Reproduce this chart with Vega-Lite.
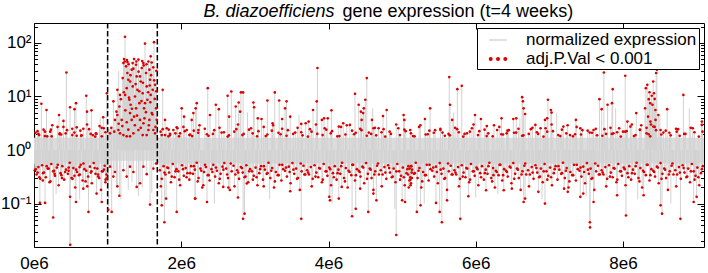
{
"$schema":"https://vega.github.io/schema/vega-lite/v6.json",
"width":670,"height":224,"autosize":"none",
"padding":{"left":34,"top":23,"right":4,"bottom":26},
"background":"white",
"config":{"view":{"stroke":"black","strokeWidth":1},"axis":{"domain":false,"grid":false,"tickColor":"black","tickWidth":1,"labelFont":"Liberation Sans","labelFontSize":17,"labelColor":"black"}},
"datasets":{
"band":[{"x":0,"lo":0.56,"hi":1.7},{"x":0.99,"lo":0.56,"hi":1.7},{"x":1.0,"lo":0.63,"hi":2.5},{"x":1.67,"lo":0.63,"hi":2.5},{"x":1.68,"lo":0.56,"hi":1.7},{"x":9.1,"lo":0.56,"hi":1.7}],
"vl":[{"x":1.0},{"x":1.675}],
"g":[
{"x":0.01,"y":0.42},{"x":0.035,"y":0.35},{"x":0.06,"y":0.48},{"x":0.085,"y":0.29},{"x":0.02,"y":2.1},{"x":0.07,"y":1.9},
{"x":0.11,"y":0.52},{"x":0.135,"y":0.38},{"x":0.16,"y":0.31},{"x":0.185,"y":0.45},{"x":0.13,"y":2.4},{"x":0.18,"y":1.8},
{"x":0.21,"y":0.25},{"x":0.235,"y":0.55},{"x":0.26,"y":0.4},{"x":0.285,"y":0.33},{"x":0.22,"y":2.2},
{"x":0.31,"y":0.47},{"x":0.335,"y":0.22},{"x":0.36,"y":0.37},{"x":0.385,"y":0.5},{"x":0.32,"y":2.7},{"x":0.37,"y":1.95},
{"x":0.41,"y":0.28},{"x":0.435,"y":0.43},{"x":0.46,"y":0.36},{"x":0.485,"y":0.58},{"x":0.43,"y":2.05},
{"x":0.51,"y":0.3},{"x":0.535,"y":0.46},{"x":0.56,"y":0.2},{"x":0.585,"y":0.39},{"x":0.52,"y":2.5},{"x":0.58,"y":1.85},
{"x":0.61,"y":0.34},{"x":0.635,"y":0.53},{"x":0.66,"y":0.27},{"x":0.685,"y":0.44},{"x":0.63,"y":2.3},
{"x":0.71,"y":0.41},{"x":0.735,"y":0.32},{"x":0.76,"y":0.49},{"x":0.785,"y":0.24},{"x":0.72,"y":3.0},{"x":0.77,"y":2.0},
{"x":0.81,"y":0.57},{"x":0.835,"y":0.36},{"x":0.86,"y":0.45},{"x":0.885,"y":0.3},{"x":0.83,"y":1.78},
{"x":0.91,"y":0.18},{"x":0.935,"y":0.4},{"x":0.96,"y":0.51},{"x":0.985,"y":0.35},{"x":0.92,"y":2.6},{"x":0.97,"y":2.15},
{"x":0.05,"y":0.38},{"x":0.12,"y":0.27},{"x":0.2,"y":0.45},{"x":0.28,"y":0.36},{"x":0.38,"y":0.3},{"x":0.47,"y":0.41},{"x":0.55,"y":0.33},{"x":0.62,"y":0.48},{"x":0.7,"y":0.26},{"x":0.78,"y":0.4},{"x":0.87,"y":0.35},{"x":0.95,"y":0.43},{"x":0.99,"y":0.3},{"x":0.97,"y":0.25},
{"x":0.023,"y":0.44},{"x":0.072,"y":0.31},{"x":0.048,"y":2.25},{"x":0.123,"y":0.37},{"x":0.172,"y":0.5},{"x":0.148,"y":1.82},{"x":0.223,"y":0.26},{"x":0.272,"y":0.41},{"x":0.248,"y":2.9},{"x":0.323,"y":0.53},{"x":0.372,"y":0.34},{"x":0.348,"y":1.97},{"x":0.423,"y":0.39},{"x":0.472,"y":0.47},{"x":0.448,"y":2.35},{"x":0.523,"y":0.29},{"x":0.572,"y":0.43},{"x":0.548,"y":2.12},{"x":0.623,"y":0.35},{"x":0.672,"y":0.56},{"x":0.648,"y":1.88},{"x":0.723,"y":0.21},{"x":0.772,"y":0.38},{"x":0.748,"y":2.45},{"x":0.823,"y":0.46},{"x":0.872,"y":0.32},{"x":0.848,"y":2.0},{"x":0.923,"y":0.4},{"x":0.972,"y":0.28},{"x":0.948,"y":2.55},
{"x":0.10,"y":7.3},{"x":0.17,"y":5.6},{"x":0.44,"y":28},{"x":0.34,"y":4.5},{"x":0.40,"y":3.5},{"x":0.49,"y":6.3},{"x":0.55,"y":5.8},{"x":0.57,"y":7.5},{"x":0.71,"y":10.3},{"x":0.72,"y":5.2},{"x":0.78,"y":5.5},{"x":0.67,"y":2.5},{"x":0.94,"y":4.1},{"x":0.89,"y":2.8},{"x":0.99,"y":11.5},
{"x":0.06,"y":2.0},{"x":0.15,"y":2.2},{"x":0.23,"y":2.4},{"x":0.24,"y":1.8},{"x":0.35,"y":2.05},{"x":0.40,"y":2.7},{"x":0.52,"y":1.9},{"x":0.58,"y":2.65},{"x":0.64,"y":1.85},{"x":0.8,"y":1.9},{"x":0.84,"y":2.05},{"x":0.92,"y":1.8},
{"x":0.08,"y":0.103},{"x":0.15,"y":0.103},{"x":0.26,"y":0.055},{"x":0.49,"y":0.134},{"x":0.57,"y":0.107},{"x":0.74,"y":0.07},{"x":0.92,"y":0.107},{"x":1.01,"y":0.077},{"x":0.85,"y":0.154},{"x":0.67,"y":0.19},{"x":0.492,"y":0.017},
{"x":1.033,"y":2.05},{"x":1.078,"y":8.1},{"x":1.1,"y":3.65},{"x":1.132,"y":4.5},{"x":1.146,"y":2.37},{"x":1.159,"y":6.5},{"x":1.168,"y":2.05},{"x":1.191,"y":3.65},{"x":1.205,"y":22},{"x":1.214,"y":42},{"x":1.223,"y":50},{"x":1.236,"y":130},{"x":1.25,"y":36.5},{"x":1.259,"y":14.3},{"x":1.268,"y":27.4},{"x":1.281,"y":20.5},{"x":1.295,"y":8.7},{"x":1.304,"y":4.9},{"x":1.306,"y":19},{"x":1.313,"y":7},{"x":1.327,"y":3.65},{"x":1.341,"y":15.4},{"x":1.35,"y":2.05},{"x":1.359,"y":50},{"x":1.372,"y":10},{"x":1.386,"y":6},{"x":1.395,"y":23.7},{"x":1.404,"y":13.3},{"x":1.418,"y":48.7},{"x":1.431,"y":7.5},{"x":1.44,"y":3.65},{"x":1.449,"y":19},{"x":1.463,"y":34},{"x":1.476,"y":11.5},{"x":1.486,"y":42},{"x":1.495,"y":6},{"x":1.508,"y":97},{"x":1.522,"y":27.4},{"x":1.531,"y":15.4},{"x":1.54,"y":8.7},{"x":1.554,"y":45},{"x":1.567,"y":3.65},{"x":1.576,"y":20.5},{"x":1.585,"y":10.7},{"x":1.599,"y":43},{"x":1.612,"y":13.3},{"x":1.621,"y":2.37},{"x":1.63,"y":103},{"x":1.644,"y":16.5},{"x":1.658,"y":6},{"x":1.667,"y":3.65},
{"x":1.132,"y":13.3},{"x":1.168,"y":10.7},{"x":1.238,"y":10.7},{"x":1.281,"y":2.4},{"x":1.359,"y":4.2},{"x":1.418,"y":2.37},{"x":1.486,"y":3.16},{"x":1.554,"y":2.37},{"x":1.599,"y":4.9},{"x":1.644,"y":2.05},{"x":1.327,"y":31.6},{"x":1.386,"y":39},{"x":1.44,"y":23.7},{"x":1.508,"y":7.5},{"x":1.567,"y":31.6},{"x":1.585,"y":56},{"x":1.531,"y":1.9},{"x":1.476,"y":1.9},{"x":1.214,"y":1.9},{"x":1.259,"y":1.8},{"x":1.304,"y":1.8},
{"x":1.05,"y":2.6},{"x":1.09,"y":2.2},{"x":1.12,"y":5.2},{"x":1.15,"y":3.1},{"x":1.18,"y":8.9},{"x":1.2,"y":2.8},{"x":1.22,"y":12},{"x":1.24,"y":5.5},{"x":1.26,"y":3.3},{"x":1.27,"y":44},{"x":1.29,"y":9.5},{"x":1.31,"y":25},{"x":1.33,"y":5.9},{"x":1.35,"y":33},{"x":1.37,"y":2.9},{"x":1.38,"y":17},{"x":1.4,"y":4.4},{"x":1.42,"y":29},{"x":1.43,"y":12.5},{"x":1.45,"y":2.6},{"x":1.46,"y":8.2},{"x":1.48,"y":18},{"x":1.49,"y":38},{"x":1.5,"y":3.9},{"x":1.52,"y":5.1},{"x":1.53,"y":40},{"x":1.55,"y":12},{"x":1.56,"y":2.9},{"x":1.58,"y":7.8},{"x":1.59,"y":25},{"x":1.61,"y":4.6},{"x":1.62,"y":35},{"x":1.64,"y":9},{"x":1.65,"y":2.7},{"x":1.66,"y":12.5},{"x":1.662,"y":30},{"x":1.632,"y":20},{"x":1.572,"y":16},{"x":1.47,"y":46},{"x":1.39,"y":45},{"x":1.34,"y":42},{"x":1.285,"y":40},{"x":1.232,"y":45},{"x":1.262,"y":48},
{"x":1.033,"y":0.49},{"x":1.078,"y":0.32},{"x":1.132,"y":0.21},{"x":1.159,"y":0.14},{"x":1.214,"y":0.42},{"x":1.259,"y":0.32},{"x":1.304,"y":0.49},{"x":1.35,"y":0.39},{"x":1.395,"y":0.205},{"x":1.44,"y":0.24},{"x":1.486,"y":0.49},{"x":1.531,"y":0.355},{"x":1.576,"y":0.096},{"x":1.621,"y":0.45},{"x":1.658,"y":0.56},{"x":1.1,"y":0.39},{"x":1.055,"y":0.07},
{"x":1.748,"y":13.3},{"x":1.78,"y":3.65},{"x":1.803,"y":2.55},{"x":1.848,"y":1.9},{"x":1.893,"y":2.37},{"x":1.938,"y":2.66},{"x":1.984,"y":2.05},{"x":2.006,"y":6},{"x":2.038,"y":4.2},{"x":2.074,"y":2.37},{"x":2.11,"y":1.9},{"x":2.142,"y":3.65},{"x":2.165,"y":4.9},{"x":2.196,"y":6},{"x":2.21,"y":7.5},{"x":2.233,"y":2.37},{"x":1.735,"y":1.9},{"x":1.825,"y":1.8},
{"x":1.735,"y":0.093},{"x":1.771,"y":0.045},{"x":1.794,"y":0.124},{"x":1.938,"y":0.07},{"x":2.188,"y":0.124},
{"x":1.71,"y":0.42},{"x":1.735,"y":0.29},{"x":1.76,"y":0.5},{"x":1.785,"y":0.35},{"x":1.72,"y":2.2},{"x":1.78,"y":1.9},
{"x":1.81,"y":0.47},{"x":1.835,"y":0.38},{"x":1.86,"y":0.25},{"x":1.885,"y":0.55},{"x":1.83,"y":2.4},
{"x":1.91,"y":0.31},{"x":1.935,"y":0.44},{"x":1.96,"y":0.4},{"x":1.985,"y":0.22},{"x":1.92,"y":2.05},{"x":1.97,"y":1.8},
{"x":1.723,"y":0.21},{"x":1.772,"y":0.38},{"x":1.748,"y":2.45},{"x":1.823,"y":0.46},{"x":1.872,"y":0.32},{"x":1.848,"y":2.0},{"x":1.923,"y":0.4},{"x":1.972,"y":0.28},{"x":1.948,"y":2.55},
{"x":2.01,"y":0.52},{"x":2.035,"y":0.33},{"x":2.06,"y":0.46},{"x":2.085,"y":0.37},{"x":2.03,"y":2.7},
{"x":2.11,"y":0.28},{"x":2.135,"y":0.5},{"x":2.16,"y":0.36},{"x":2.185,"y":0.43},{"x":2.12,"y":1.95},{"x":2.17,"y":2.3},
{"x":2.21,"y":0.58},{"x":2.235,"y":0.3},{"x":2.26,"y":0.45},{"x":2.285,"y":0.2},{"x":2.23,"y":2.1},
{"x":2.31,"y":0.39},{"x":2.335,"y":0.48},{"x":2.36,"y":0.34},{"x":2.385,"y":0.27},{"x":2.32,"y":2.5},{"x":2.37,"y":1.85},
{"x":2.41,"y":0.44},{"x":2.435,"y":0.53},{"x":2.46,"y":0.32},{"x":2.485,"y":0.41},{"x":2.43,"y":2.0},
{"x":2.51,"y":0.24},{"x":2.535,"y":0.36},{"x":2.56,"y":0.49},{"x":2.585,"y":0.57},{"x":2.52,"y":2.6},{"x":2.58,"y":2.15},
{"x":2.61,"y":0.45},{"x":2.635,"y":0.3},{"x":2.66,"y":0.18},{"x":2.685,"y":0.4},{"x":2.63,"y":1.78},
{"x":2.71,"y":0.51},{"x":2.735,"y":0.35},{"x":2.76,"y":0.42},{"x":2.785,"y":0.29},{"x":2.72,"y":2.2},{"x":2.77,"y":3.0},
{"x":2.81,"y":0.48},{"x":2.835,"y":0.38},{"x":2.86,"y":0.31},{"x":2.885,"y":0.52},{"x":2.83,"y":1.9},
{"x":2.91,"y":0.25},{"x":2.935,"y":0.44},{"x":2.96,"y":0.4},{"x":2.985,"y":0.33},{"x":2.92,"y":2.4},{"x":2.97,"y":2.05},
{"x":2.023,"y":0.44},{"x":2.072,"y":0.31},{"x":2.048,"y":2.25},{"x":2.123,"y":0.37},{"x":2.172,"y":0.5},{"x":2.148,"y":1.82},{"x":2.223,"y":0.26},{"x":2.272,"y":0.41},{"x":2.248,"y":2.9},{"x":2.323,"y":0.53},{"x":2.372,"y":0.34},{"x":2.348,"y":1.97},{"x":2.423,"y":0.39},{"x":2.472,"y":0.47},{"x":2.448,"y":2.35},{"x":2.523,"y":0.29},{"x":2.572,"y":0.43},{"x":2.548,"y":2.12},{"x":2.623,"y":0.35},{"x":2.672,"y":0.56},{"x":2.648,"y":1.88},{"x":2.723,"y":0.21},{"x":2.772,"y":0.38},{"x":2.748,"y":2.45},{"x":2.823,"y":0.46},{"x":2.872,"y":0.32},{"x":2.848,"y":2.0},{"x":2.923,"y":0.4},{"x":2.972,"y":0.28},{"x":2.948,"y":2.55},
{"x":3.01,"y":0.47},{"x":3.035,"y":0.22},{"x":3.06,"y":0.37},{"x":3.085,"y":0.5},{"x":3.03,"y":1.8},
{"x":3.11,"y":0.28},{"x":3.135,"y":0.43},{"x":3.16,"y":0.36},{"x":3.185,"y":0.58},{"x":3.12,"y":2.7},{"x":3.17,"y":1.95},
{"x":3.21,"y":0.3},{"x":3.235,"y":0.46},{"x":3.26,"y":0.2},{"x":3.285,"y":0.39},{"x":3.23,"y":2.3},
{"x":3.31,"y":0.34},{"x":3.335,"y":0.53},{"x":3.36,"y":0.27},{"x":3.385,"y":0.44},{"x":3.32,"y":2.1},{"x":3.37,"y":2.5},
{"x":3.41,"y":0.41},{"x":3.435,"y":0.32},{"x":3.46,"y":0.49},{"x":3.485,"y":0.24},{"x":3.43,"y":1.85},
{"x":3.51,"y":0.57},{"x":3.535,"y":0.36},{"x":3.56,"y":0.45},{"x":3.585,"y":0.3},{"x":3.52,"y":2.0},{"x":3.58,"y":2.6},
{"x":3.61,"y":0.18},{"x":3.635,"y":0.4},{"x":3.66,"y":0.51},{"x":3.685,"y":0.35},{"x":3.63,"y":2.15},
{"x":3.71,"y":0.42},{"x":3.735,"y":0.35},{"x":3.76,"y":0.48},{"x":3.785,"y":0.29},{"x":3.72,"y":1.78},{"x":3.77,"y":2.2},
{"x":3.81,"y":0.52},{"x":3.835,"y":0.38},{"x":3.86,"y":0.31},{"x":3.885,"y":0.45},{"x":3.83,"y":3.0},
{"x":3.91,"y":0.25},{"x":3.935,"y":0.55},{"x":3.96,"y":0.4},{"x":3.985,"y":0.33},{"x":3.92,"y":1.9},{"x":3.97,"y":2.4},
{"x":3.023,"y":0.31},{"x":3.072,"y":0.44},{"x":3.048,"y":2.25},{"x":3.123,"y":0.5},{"x":3.172,"y":0.37},{"x":3.148,"y":1.82},{"x":3.223,"y":0.41},{"x":3.272,"y":0.26},{"x":3.248,"y":2.9},{"x":3.323,"y":0.34},{"x":3.372,"y":0.53},{"x":3.348,"y":1.97},{"x":3.423,"y":0.47},{"x":3.472,"y":0.39},{"x":3.448,"y":2.35},{"x":3.523,"y":0.43},{"x":3.572,"y":0.29},{"x":3.548,"y":2.12},{"x":3.623,"y":0.56},{"x":3.672,"y":0.35},{"x":3.648,"y":1.88},{"x":3.723,"y":0.38},{"x":3.772,"y":0.21},{"x":3.748,"y":2.45},{"x":3.823,"y":0.32},{"x":3.872,"y":0.46},{"x":3.848,"y":2.0},{"x":3.923,"y":0.28},{"x":3.972,"y":0.4},{"x":3.948,"y":2.55},
{"x":4.01,"y":0.47},{"x":4.035,"y":0.22},{"x":4.06,"y":0.37},{"x":4.085,"y":0.5},{"x":4.03,"y":2.05},
{"x":4.11,"y":0.28},{"x":4.135,"y":0.43},{"x":4.16,"y":0.36},{"x":4.185,"y":0.58},{"x":4.12,"y":1.8},{"x":4.17,"y":2.7},
{"x":4.21,"y":0.3},{"x":4.235,"y":0.46},{"x":4.26,"y":0.2},{"x":4.285,"y":0.39},{"x":4.23,"y":1.95},
{"x":4.31,"y":0.34},{"x":4.335,"y":0.53},{"x":4.36,"y":0.27},{"x":4.385,"y":0.44},{"x":4.32,"y":2.3},{"x":4.37,"y":2.1},
{"x":4.41,"y":0.41},{"x":4.435,"y":0.32},{"x":4.46,"y":0.49},{"x":4.485,"y":0.24},{"x":4.43,"y":2.5},
{"x":4.51,"y":0.57},{"x":4.535,"y":0.36},{"x":4.56,"y":0.45},{"x":4.585,"y":0.3},{"x":4.52,"y":1.85},{"x":4.58,"y":2.0},
{"x":4.61,"y":0.18},{"x":4.635,"y":0.4},{"x":4.66,"y":0.51},{"x":4.685,"y":0.35},{"x":4.63,"y":2.6},
{"x":4.71,"y":0.42},{"x":4.735,"y":0.35},{"x":4.76,"y":0.48},{"x":4.785,"y":0.29},{"x":4.72,"y":2.15},{"x":4.77,"y":1.78},
{"x":4.81,"y":0.52},{"x":4.835,"y":0.38},{"x":4.86,"y":0.31},{"x":4.885,"y":0.45},{"x":4.83,"y":2.2},
{"x":4.91,"y":0.25},{"x":4.935,"y":0.55},{"x":4.96,"y":0.4},{"x":4.985,"y":0.33},{"x":4.92,"y":3.0},{"x":4.97,"y":1.9},
{"x":4.023,"y":0.44},{"x":4.072,"y":0.31},{"x":4.048,"y":2.25},{"x":4.123,"y":0.37},{"x":4.172,"y":0.5},{"x":4.148,"y":1.82},{"x":4.223,"y":0.26},{"x":4.272,"y":0.41},{"x":4.248,"y":2.9},{"x":4.323,"y":0.53},{"x":4.372,"y":0.34},{"x":4.348,"y":1.97},{"x":4.423,"y":0.39},{"x":4.472,"y":0.47},{"x":4.448,"y":2.35},{"x":4.523,"y":0.29},{"x":4.572,"y":0.43},{"x":4.548,"y":2.12},{"x":4.623,"y":0.35},{"x":4.672,"y":0.56},{"x":4.648,"y":1.88},{"x":4.723,"y":0.21},{"x":4.772,"y":0.38},{"x":4.748,"y":2.45},{"x":4.823,"y":0.46},{"x":4.872,"y":0.32},{"x":4.848,"y":2.0},{"x":4.923,"y":0.4},{"x":4.972,"y":0.28},{"x":4.948,"y":2.55},
{"x":5.01,"y":0.47},{"x":5.035,"y":0.22},{"x":5.06,"y":0.37},{"x":5.085,"y":0.5},{"x":5.03,"y":2.4},
{"x":5.11,"y":0.28},{"x":5.135,"y":0.43},{"x":5.16,"y":0.36},{"x":5.185,"y":0.58},{"x":5.12,"y":2.05},{"x":5.17,"y":1.8},
{"x":5.21,"y":0.3},{"x":5.235,"y":0.46},{"x":5.26,"y":0.2},{"x":5.285,"y":0.39},{"x":5.23,"y":2.7},
{"x":5.31,"y":0.34},{"x":5.335,"y":0.53},{"x":5.36,"y":0.27},{"x":5.385,"y":0.44},{"x":5.32,"y":1.95},{"x":5.37,"y":2.3},
{"x":5.41,"y":0.41},{"x":5.435,"y":0.32},{"x":5.46,"y":0.49},{"x":5.485,"y":0.24},{"x":5.43,"y":2.1},
{"x":5.51,"y":0.57},{"x":5.535,"y":0.36},{"x":5.56,"y":0.45},{"x":5.585,"y":0.3},{"x":5.52,"y":2.5},{"x":5.58,"y":1.85},
{"x":5.61,"y":0.18},{"x":5.635,"y":0.4},{"x":5.66,"y":0.51},{"x":5.685,"y":0.35},{"x":5.63,"y":2.0},
{"x":5.71,"y":0.42},{"x":5.735,"y":0.35},{"x":5.76,"y":0.48},{"x":5.785,"y":0.29},{"x":5.72,"y":2.6},{"x":5.77,"y":2.15},
{"x":5.81,"y":0.52},{"x":5.835,"y":0.38},{"x":5.86,"y":0.31},{"x":5.885,"y":0.45},{"x":5.83,"y":1.78},
{"x":5.91,"y":0.25},{"x":5.935,"y":0.55},{"x":5.96,"y":0.4},{"x":5.985,"y":0.33},{"x":5.92,"y":2.2},{"x":5.97,"y":3.0},
{"x":5.023,"y":0.31},{"x":5.072,"y":0.44},{"x":5.048,"y":2.25},{"x":5.123,"y":0.5},{"x":5.172,"y":0.37},{"x":5.148,"y":1.82},{"x":5.223,"y":0.41},{"x":5.272,"y":0.26},{"x":5.248,"y":2.9},{"x":5.323,"y":0.34},{"x":5.372,"y":0.53},{"x":5.348,"y":1.97},{"x":5.423,"y":0.47},{"x":5.472,"y":0.39},{"x":5.448,"y":2.35},{"x":5.523,"y":0.43},{"x":5.572,"y":0.29},{"x":5.548,"y":2.12},{"x":5.623,"y":0.56},{"x":5.672,"y":0.35},{"x":5.648,"y":1.88},{"x":5.723,"y":0.38},{"x":5.772,"y":0.21},{"x":5.748,"y":2.45},{"x":5.823,"y":0.32},{"x":5.872,"y":0.46},{"x":5.848,"y":2.0},{"x":5.923,"y":0.28},{"x":5.972,"y":0.4},{"x":5.948,"y":2.55},
{"x":6.01,"y":0.47},{"x":6.035,"y":0.22},{"x":6.06,"y":0.37},{"x":6.085,"y":0.5},{"x":6.03,"y":1.9},
{"x":6.11,"y":0.28},{"x":6.135,"y":0.43},{"x":6.16,"y":0.36},{"x":6.185,"y":0.58},{"x":6.12,"y":2.4},{"x":6.17,"y":2.05},
{"x":6.21,"y":0.3},{"x":6.235,"y":0.46},{"x":6.26,"y":0.2},{"x":6.285,"y":0.39},{"x":6.23,"y":1.8},
{"x":6.31,"y":0.34},{"x":6.335,"y":0.53},{"x":6.36,"y":0.27},{"x":6.385,"y":0.44},{"x":6.32,"y":2.7},{"x":6.37,"y":1.95},
{"x":6.41,"y":0.41},{"x":6.435,"y":0.32},{"x":6.46,"y":0.49},{"x":6.485,"y":0.24},{"x":6.43,"y":2.3},
{"x":6.51,"y":0.57},{"x":6.535,"y":0.36},{"x":6.56,"y":0.45},{"x":6.585,"y":0.3},{"x":6.52,"y":2.1},{"x":6.58,"y":2.5},
{"x":6.61,"y":0.18},{"x":6.635,"y":0.4},{"x":6.66,"y":0.51},{"x":6.685,"y":0.35},{"x":6.63,"y":1.85},
{"x":6.71,"y":0.42},{"x":6.735,"y":0.35},{"x":6.76,"y":0.48},{"x":6.785,"y":0.29},{"x":6.72,"y":2.0},{"x":6.77,"y":2.6},
{"x":6.81,"y":0.52},{"x":6.835,"y":0.38},{"x":6.86,"y":0.31},{"x":6.885,"y":0.45},{"x":6.83,"y":2.15},
{"x":6.91,"y":0.25},{"x":6.935,"y":0.55},{"x":6.96,"y":0.4},{"x":6.985,"y":0.33},{"x":6.92,"y":1.78},{"x":6.97,"y":2.2},
{"x":6.023,"y":0.44},{"x":6.072,"y":0.31},{"x":6.048,"y":2.25},{"x":6.123,"y":0.37},{"x":6.172,"y":0.5},{"x":6.148,"y":1.82},{"x":6.223,"y":0.26},{"x":6.272,"y":0.41},{"x":6.248,"y":2.9},{"x":6.323,"y":0.53},{"x":6.372,"y":0.34},{"x":6.348,"y":1.97},{"x":6.423,"y":0.39},{"x":6.472,"y":0.47},{"x":6.448,"y":2.35},{"x":6.523,"y":0.29},{"x":6.572,"y":0.43},{"x":6.548,"y":2.12},{"x":6.623,"y":0.35},{"x":6.672,"y":0.56},{"x":6.648,"y":1.88},{"x":6.723,"y":0.21},{"x":6.772,"y":0.38},{"x":6.748,"y":2.45},{"x":6.823,"y":0.46},{"x":6.872,"y":0.32},{"x":6.848,"y":2.0},{"x":6.923,"y":0.4},{"x":6.972,"y":0.28},{"x":6.948,"y":2.55},
{"x":7.01,"y":0.47},{"x":7.035,"y":0.22},{"x":7.06,"y":0.37},{"x":7.085,"y":0.5},{"x":7.03,"y":3.0},
{"x":7.11,"y":0.28},{"x":7.135,"y":0.43},{"x":7.16,"y":0.36},{"x":7.185,"y":0.58},{"x":7.12,"y":1.9},{"x":7.17,"y":2.4},
{"x":7.21,"y":0.3},{"x":7.235,"y":0.46},{"x":7.26,"y":0.2},{"x":7.285,"y":0.39},{"x":7.23,"y":2.05},
{"x":7.31,"y":0.34},{"x":7.335,"y":0.53},{"x":7.36,"y":0.27},{"x":7.385,"y":0.44},{"x":7.32,"y":1.8},{"x":7.37,"y":2.7},
{"x":7.41,"y":0.41},{"x":7.435,"y":0.32},{"x":7.46,"y":0.49},{"x":7.485,"y":0.24},{"x":7.43,"y":1.95},
{"x":7.51,"y":0.57},{"x":7.535,"y":0.36},{"x":7.56,"y":0.45},{"x":7.585,"y":0.3},{"x":7.52,"y":2.3},{"x":7.58,"y":2.1},
{"x":7.61,"y":0.18},{"x":7.635,"y":0.4},{"x":7.66,"y":0.51},{"x":7.685,"y":0.35},{"x":7.63,"y":2.5},
{"x":7.71,"y":0.42},{"x":7.735,"y":0.35},{"x":7.76,"y":0.48},{"x":7.785,"y":0.29},{"x":7.72,"y":1.85},{"x":7.77,"y":2.0},
{"x":7.81,"y":0.52},{"x":7.835,"y":0.38},{"x":7.86,"y":0.31},{"x":7.885,"y":0.45},{"x":7.83,"y":2.6},
{"x":7.91,"y":0.25},{"x":7.935,"y":0.55},{"x":7.96,"y":0.4},{"x":7.985,"y":0.33},{"x":7.92,"y":2.15},{"x":7.97,"y":1.78},
{"x":7.023,"y":0.31},{"x":7.072,"y":0.44},{"x":7.048,"y":2.25},{"x":7.123,"y":0.5},{"x":7.172,"y":0.37},{"x":7.148,"y":1.82},{"x":7.223,"y":0.41},{"x":7.272,"y":0.26},{"x":7.248,"y":2.9},{"x":7.323,"y":0.34},{"x":7.372,"y":0.53},{"x":7.348,"y":1.97},{"x":7.423,"y":0.47},{"x":7.472,"y":0.39},{"x":7.448,"y":2.35},{"x":7.523,"y":0.43},{"x":7.572,"y":0.29},{"x":7.548,"y":2.12},{"x":7.623,"y":0.56},{"x":7.672,"y":0.35},{"x":7.648,"y":1.88},{"x":7.723,"y":0.38},{"x":7.772,"y":0.21},{"x":7.748,"y":2.45},{"x":7.823,"y":0.32},{"x":7.872,"y":0.46},{"x":7.848,"y":2.0},{"x":7.923,"y":0.28},{"x":7.972,"y":0.4},{"x":7.948,"y":2.55},
{"x":8.01,"y":0.47},{"x":8.035,"y":0.22},{"x":8.06,"y":0.37},{"x":8.085,"y":0.5},{"x":8.03,"y":2.2},
{"x":8.11,"y":0.28},{"x":8.135,"y":0.43},{"x":8.16,"y":0.36},{"x":8.185,"y":0.58},{"x":8.12,"y":3.0},{"x":8.17,"y":1.9},
{"x":8.21,"y":0.3},{"x":8.235,"y":0.46},{"x":8.26,"y":0.2},{"x":8.285,"y":0.39},{"x":8.23,"y":2.4},
{"x":8.31,"y":0.34},{"x":8.335,"y":0.53},{"x":8.36,"y":0.27},{"x":8.385,"y":0.44},{"x":8.32,"y":2.05},{"x":8.37,"y":1.8},
{"x":8.41,"y":0.41},{"x":8.435,"y":0.32},{"x":8.46,"y":0.49},{"x":8.485,"y":0.24},{"x":8.43,"y":2.7},
{"x":8.51,"y":0.57},{"x":8.535,"y":0.36},{"x":8.56,"y":0.45},{"x":8.585,"y":0.3},{"x":8.52,"y":1.95},{"x":8.58,"y":2.3},
{"x":8.61,"y":0.18},{"x":8.635,"y":0.4},{"x":8.66,"y":0.51},{"x":8.685,"y":0.35},{"x":8.63,"y":2.1},
{"x":8.71,"y":0.42},{"x":8.735,"y":0.35},{"x":8.76,"y":0.48},{"x":8.785,"y":0.29},{"x":8.72,"y":2.5},{"x":8.77,"y":1.85},
{"x":8.81,"y":0.52},{"x":8.835,"y":0.38},{"x":8.86,"y":0.31},{"x":8.885,"y":0.45},{"x":8.83,"y":2.0},
{"x":8.91,"y":0.25},{"x":8.935,"y":0.55},{"x":8.96,"y":0.4},{"x":8.985,"y":0.33},{"x":8.92,"y":2.6},{"x":8.97,"y":2.15},
{"x":8.023,"y":0.44},{"x":8.072,"y":0.31},{"x":8.048,"y":2.25},{"x":8.123,"y":0.37},{"x":8.172,"y":0.5},{"x":8.148,"y":1.82},{"x":8.223,"y":0.26},{"x":8.272,"y":0.41},{"x":8.248,"y":2.9},{"x":8.323,"y":0.53},{"x":8.372,"y":0.34},{"x":8.348,"y":1.97},{"x":8.423,"y":0.39},{"x":8.472,"y":0.47},{"x":8.448,"y":2.35},{"x":8.523,"y":0.29},{"x":8.572,"y":0.43},{"x":8.548,"y":2.12},{"x":8.623,"y":0.35},{"x":8.672,"y":0.56},{"x":8.648,"y":1.88},{"x":8.723,"y":0.21},{"x":8.772,"y":0.38},{"x":8.748,"y":2.45},{"x":8.823,"y":0.46},{"x":8.872,"y":0.32},{"x":8.848,"y":2.0},{"x":8.923,"y":0.4},{"x":8.972,"y":0.28},{"x":8.948,"y":2.55},
{"x":9.01,"y":0.47},{"x":9.035,"y":0.22},{"x":9.06,"y":0.37},{"x":9.085,"y":0.5},{"x":9.03,"y":1.78},{"x":9.08,"y":2.2},{"x":9.023,"y":0.31},{"x":9.072,"y":0.44},
{"x":2.36,"y":14.3},{"x":2.39,"y":4.5},{"x":2.47,"y":7},{"x":2.51,"y":5.8},{"x":2.63,"y":10.3},{"x":2.68,"y":12.4},{"x":2.65,"y":4.2},{"x":2.74,"y":6.5},{"x":2.78,"y":7.7},{"x":2.81,"y":11.9},{"x":2.84,"y":11.9},{"x":2.8,"y":5.2},{"x":2.98,"y":7.7},{"x":2.99,"y":6.3},{"x":3.04,"y":3.9},{"x":3.09,"y":3.8},{"x":3.17,"y":8.4},{"x":3.27,"y":11.9},{"x":3.24,"y":3.16},{"x":3.33,"y":8.4},{"x":3.37,"y":3.8},{"x":3.41,"y":6},{"x":3.48,"y":4.2},{"x":3.43,"y":8.1},{"x":3.63,"y":3.07},{"x":3.69,"y":3.16},{"x":3.73,"y":3.4},{"x":3.79,"y":5.6},{"x":3.85,"y":34},{"x":3.84,"y":8.1},{"x":3.91,"y":3.65},{"x":3.94,"y":3.9},{"x":3.99,"y":3.9},{"x":4.04,"y":5.5},{"x":4.14,"y":2.74},{"x":4.2,"y":3.16},{"x":4.29,"y":2.94},{"x":4.36,"y":11.2},{"x":4.41,"y":7},{"x":4.44,"y":5.2},{"x":4.45,"y":3.65},
{"x":2.19,"y":0.124},{"x":2.35,"y":0.107},{"x":2.77,"y":0.13},{"x":2.84,"y":0.052},{"x":2.86,"y":0.065},{"x":3.12,"y":0.21},{"x":3.48,"y":0.17},{"x":3.63,"y":0.052},{"x":4.01,"y":0.134},{"x":4.02,"y":0.115},{"x":4.14,"y":0.124},{"x":4.18,"y":0.205},{"x":4.32,"y":0.058},{"x":4.37,"y":0.08},{"x":4.43,"y":0.19},{"x":2.3,"y":0.22},{"x":2.57,"y":0.205},{"x":2.64,"y":0.2},{"x":2.89,"y":0.237},
{"x":4.52,"y":22},{"x":4.5,"y":8.7},{"x":4.48,"y":6},{"x":4.47,"y":4.9},{"x":4.79,"y":5.6},{"x":4.74,"y":4.3},{"x":5.02,"y":4.5},{"x":5.03,"y":3.65},{"x":5.38,"y":6},{"x":5.31,"y":3.8},{"x":5.64,"y":23},{"x":5.65,"y":7},{"x":5.75,"y":13.7},{"x":5.81,"y":15.8},{"x":5.68,"y":3.65},{"x":5.99,"y":4.5},{"x":6.07,"y":3.8},{"x":6.35,"y":3.9},{"x":6.51,"y":3.8},{"x":6.55,"y":3.9},{"x":6.63,"y":9.7},{"x":6.64,"y":8.1},{"x":6.65,"y":6},{"x":6.67,"y":4.7},{"x":4.68,"y":2.55},{"x":4.59,"y":3.65},{"x":4.61,"y":2.55},{"x":5.11,"y":2.37},{"x":5.52,"y":2.37},{"x":5.88,"y":2.05},{"x":6.15,"y":2.8},{"x":6.29,"y":2.37},{"x":6.42,"y":2.05},
{"x":4.54,"y":0.07},{"x":4.61,"y":0.154},{"x":4.65,"y":0.115},{"x":4.92,"y":0.026},{"x":5.0,"y":0.115},{"x":5.04,"y":0.107},{"x":5.2,"y":0.07},{"x":5.25,"y":0.093},{"x":5.46,"y":0.103},{"x":5.51,"y":0.07},{"x":5.54,"y":0.045},{"x":5.61,"y":0.115},{"x":5.79,"y":0.052},{"x":5.9,"y":0.137},{"x":6.14,"y":0.178},{"x":6.24,"y":0.34},{"x":6.38,"y":0.178},{"x":6.49,"y":0.19},{"x":6.65,"y":0.107},{"x":6.67,"y":0.124},
{"x":5.09,"y":0.2},{"x":5.1,"y":0.27},{"x":5.112,"y":0.31},{"x":5.12,"y":0.24},{"x":5.13,"y":0.38},{"x":5.102,"y":0.45},{"x":5.122,"y":0.5},{"x":5.08,"y":0.35},{"x":5.115,"y":0.22},{"x":5.132,"y":0.3},
{"x":6.98,"y":8.7},{"x":7.02,"y":5.6},{"x":7.03,"y":5},{"x":6.97,"y":3.9},{"x":6.94,"y":3.65},{"x":7.36,"y":3.65},{"x":7.42,"y":2.55},{"x":7.68,"y":8.9},{"x":7.71,"y":5.8},{"x":7.74,"y":28},{"x":7.79,"y":7},{"x":7.85,"y":7.5},{"x":7.86,"y":13.7},{"x":8.03,"y":24.4},{"x":8.06,"y":3.4},{"x":8.1,"y":2.74},{"x":8.18,"y":4.9},{"x":8.31,"y":14.3},{"x":8.33,"y":16.5},{"x":8.35,"y":8.9},{"x":8.37,"y":7.5},{"x":8.39,"y":10.3},{"x":8.41,"y":19},{"x":8.42,"y":11.5},{"x":8.44,"y":5.6},{"x":8.45,"y":27.4},{"x":8.46,"y":31.6},{"x":8.48,"y":4.5},{"x":8.442,"y":3.65},{"x":8.372,"y":3.4},{"x":8.412,"y":2.74},{"x":8.51,"y":2.37},{"x":8.6,"y":5.8},{"x":8.82,"y":10.7},{"x":8.73,"y":2.2},{"x":9.07,"y":2.94},{"x":9.072,"y":3.4},{"x":8.23,"y":2.37},{"x":7.87,"y":2.05},{"x":7.19,"y":2.74},{"x":7.28,"y":1.9},{"x":7.6,"y":2.37},{"x":8.0,"y":2.2},{"x":6.81,"y":2.94},{"x":6.88,"y":2.55},
{"x":8.3,"y":6},{"x":8.34,"y":4.2},{"x":8.36,"y":12},{"x":8.4,"y":7},{"x":8.43,"y":9},{"x":8.38,"y":3},{"x":8.32,"y":2.6},
{"x":6.94,"y":0.1},{"x":6.85,"y":0.166},{"x":7.2,"y":0.19},{"x":7.25,"y":0.166},{"x":7.42,"y":0.134},{"x":7.46,"y":0.154},{"x":7.55,"y":0.045},{"x":7.552,"y":0.036},{"x":7.6,"y":0.107},{"x":7.92,"y":0.143},{"x":8.04,"y":0.06},{"x":8.28,"y":0.143},{"x":8.51,"y":0.093},{"x":8.53,"y":0.065},{"x":8.78,"y":0.052},{"x":9.0,"y":0.134},{"x":8.96,"y":0.107},
{"x":0.488,"y":0.016,"n":1},{"x":0.3,"y":0.15,"n":1},{"x":0.62,"y":0.12,"n":1},{"x":0.9,"y":4,"n":1},{"x":1.05,"y":0.15,"n":1},{"x":1.12,"y":0.2,"n":1},{"x":1.18,"y":0.12,"n":1},{"x":1.28,"y":0.18,"n":1},{"x":1.33,"y":0.25,"n":1},{"x":1.42,"y":0.14,"n":1},{"x":1.47,"y":0.2,"n":1},{"x":1.6,"y":0.16,"n":1},{"x":1.15,"y":30,"n":1},{"x":1.22,"y":25,"n":1},{"x":1.3,"y":45,"n":1},{"x":1.38,"y":35,"n":1},{"x":1.45,"y":28,"n":1},{"x":1.52,"y":40,"n":1},{"x":1.62,"y":30,"n":1},{"x":2.45,"y":0.1,"n":1},{"x":2.9,"y":5,"n":1},{"x":3.2,"y":0.12,"n":1},{"x":3.6,"y":4.5,"n":1},{"x":4.05,"y":0.1,"n":1},{"x":4.6,"y":6,"n":1},{"x":4.9,"y":0.08,"n":1},{"x":5.3,"y":0.1,"n":1},{"x":5.7,"y":5,"n":1},{"x":6.0,"y":0.13,"n":1},{"x":6.3,"y":0.15,"n":1},{"x":6.6,"y":4,"n":1},{"x":6.9,"y":0.12,"n":1},{"x":7.1,"y":5,"n":1},{"x":7.5,"y":0.14,"n":1},{"x":7.9,"y":6,"n":1},{"x":8.2,"y":0.12,"n":1},{"x":8.5,"y":4.5,"n":1},{"x":8.65,"y":0.1,"n":1},{"x":8.9,"y":6,"n":1}
]},
"resolve":{"axis":{"x":"independent","y":"independent"}},
"layer":[
{"data":{"name":"band"},"mark":{"type":"area","color":"#dcdcdc"},
 "encoding":{"x":{"field":"x","type":"quantitative","scale":{"domain":[0,9.1],"nice":false,"zero":false},"axis":{"orient":"bottom","title":null,"values":[0,2,4,6,8],"labelExpr":"datum.value + 'e6'","tickSize":-6,"labelPadding":14,"labelFlush":false}},
  "y":{"field":"lo","type":"quantitative","scale":{"type":"log","domain":[0.0155,235],"nice":false},"axis":{"orient":"left","values":[0.1,1,10,100],"labelExpr":"datum.value == 100 ? '10²' : datum.value == 10 ? '10¹' : datum.value == 1 ? '10⁰' : '10⁻¹'","tickSize":-7,"labelPadding":10,
   "title":"B. diazoefficiens","titleAngle":0,"titleX":169,"titleY":-7,"titleAlign":"left","titleBaseline":"alphabetic","titleFont":"Liberation Sans","titleFontSize":18,"titleFontStyle":"italic","titleFontWeight":"normal","titleColor":"black"}},
  "y2":{"field":"hi"}}},
{"data":{"name":"g"},"mark":{"type":"rule","color":"#d2d2d2","strokeWidth":1},
 "encoding":{"x":{"field":"x","type":"quantitative","axis":{"orient":"top","values":[0,2,4,6,8],"labels":false,"tickSize":-6,
   "title":"gene expression (t=4 weeks)","titleX":308,"titleY":-7,"titleAlign":"left","titleBaseline":"alphabetic","titleFont":"Liberation Sans","titleFontSize":18,"titleFontWeight":"normal","titleColor":"black"}},
  "y":{"field":"y","type":"quantitative","axis":{"orient":"right","title":null,"values":[0.1,1,10,100],"labels":false,"tickSize":-7}},
  "y2":{"datum":1}}},
{"mark":{"type":"rule","color":"#666666","strokeWidth":1},
 "encoding":{"y":{"datum":1,"type":"quantitative","axis":{"orient":"left","title":null,"values":[0.02,0.03,0.04,0.05,0.06,0.07,0.08,0.09,0.2,0.3,0.4,0.5,0.6,0.7,0.8,0.9,2,3,4,5,6,7,8,9,20,30,40,50,60,70,80,90,200],"labels":false,"tickSize":-3.5}}}},
{"data":{"name":"vl"},"mark":{"type":"rule","color":"black","strokeWidth":1.5,"strokeDash":[5.5,2.5]},
 "encoding":{"x":{"field":"x","type":"quantitative","axis":null}}},
{"data":{"name":"g"},"transform":[{"filter":"!datum.n"}],"mark":{"type":"point","filled":true,"color":"#dd0000","size":7,"opacity":1,"strokeWidth":0},
 "encoding":{"x":{"field":"x","type":"quantitative","axis":null},
  "y":{"field":"y","type":"quantitative","axis":{"orient":"right","title":null,"values":[0.02,0.03,0.04,0.05,0.06,0.07,0.08,0.09,0.2,0.3,0.4,0.5,0.6,0.7,0.8,0.9,2,3,4,5,6,7,8,9,20,30,40,50,60,70,80,90,200],"labels":false,"tickSize":-3.5}}}},
{"data":{"values":[{"s":"normalized expression"},{"s":"adj.P.Val < 0.001"}]},"transform":[{"filter":"false"}],
 "mark":{"type":"point","filled":true,"opacity":1},
 "encoding":{
  "fill":{"field":"s","type":"nominal","scale":{"domain":["normalized expression","adj.P.Val < 0.001"],"range":["#d6d6d6","#dd0000"]},"legend":{"title":null,"orient":"top-right","offset":5,"padding":2,"rowPadding":1,"symbolOffset":9,"labelOffset":18,"symbolSize":324,"symbolStrokeWidth":1.5,"labelFont":"Liberation Sans","labelFontSize":17,"labelLimit":400,"labelColor":"black","fillColor":"white","strokeColor":"black"}},
  "stroke":{"field":"s","type":"nominal","scale":{"domain":["normalized expression","adj.P.Val < 0.001"],"range":["#d6d6d6","#dd0000"]},"legend":{"title":null,"orient":"top-right","offset":5,"padding":2,"rowPadding":1,"symbolOffset":9,"labelOffset":18,"symbolSize":324,"symbolStrokeWidth":1.5,"labelFont":"Liberation Sans","labelFontSize":17,"labelLimit":400,"labelColor":"black","fillColor":"white","strokeColor":"black"}},
  "shape":{"field":"s","type":"nominal","scale":{"domain":["normalized expression","adj.P.Val < 0.001"],"range":["stroke","M-0.95,0a0.14,0.14 0 1,0 0.28,0a0.14,0.14 0 1,0 -0.28,0M-0.14,0a0.14,0.14 0 1,0 0.28,0a0.14,0.14 0 1,0 -0.28,0M0.67,0a0.14,0.14 0 1,0 0.28,0a0.14,0.14 0 1,0 -0.28,0"]},"legend":{"title":null,"orient":"top-right","offset":5,"padding":2,"rowPadding":1,"symbolOffset":9,"labelOffset":18,"symbolSize":324,"symbolStrokeWidth":1.5,"labelFont":"Liberation Sans","labelFontSize":17,"labelLimit":400,"labelColor":"black","fillColor":"white","strokeColor":"black"}}}}
]
}
